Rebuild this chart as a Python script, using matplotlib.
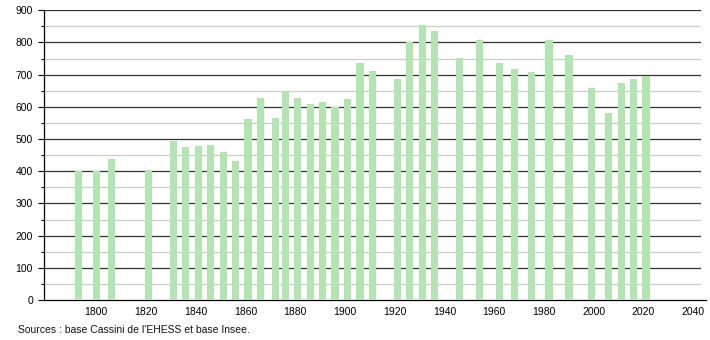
import matplotlib.pyplot as plt
import numpy as np

plt.rcParams['font.family'] = ['Liberation Sans', 'DejaVu Sans']

years = [1793, 1800, 1806, 1821, 1831, 1836, 1841, 1846, 1851, 1856,
         1861, 1866, 1872, 1876, 1881, 1886, 1891, 1896, 1901, 1906,
         1911, 1921, 1926, 1931, 1936, 1946, 1954, 1962, 1968, 1975,
         1982, 1990, 1999, 2006, 2011, 2016, 2021]
population = [402, 402, 438, 405, 493, 475, 478, 481, 461, 431,
              562, 627, 565, 647, 626, 608, 614, 598, 623, 736,
              711, 685, 800, 853, 835, 751, 809, 736, 717, 708,
              809, 760, 658, 581, 673, 686, 696]

yticks = np.arange(0, 901, 100)
xticks = np.arange(1800, 2041, 20)

fig = plt.figure(figsize=(7.1, 3.4), dpi=100)
ax = fig.add_axes([0.062, 0.1176, 0.925, 0.8524])

ax.bar(years, population, width=2.9, color='#b3e5b3', zorder=3)

# grid lines
for v in np.arange(50, 901, 100):
    ax.axhline(v, color='#cccccc', lw=0.9, zorder=1)
for v in yticks[1:]:
    ax.axhline(v, color='#333333', lw=0.9, zorder=1)

ax.set_xlim(1779, 2043)
ax.set_ylim(0, 900)
ax.set_yticks(yticks)
ax.set_yticks(np.arange(50, 901, 100), minor=True)
ax.set_xticks(xticks)
ax.tick_params(axis='y', labelsize=7.5, length=4, width=0.8, pad=4)
ax.tick_params(axis='y', which='minor', length=2, width=0.8)
ax.tick_params(axis='x', labelsize=7.5, length=0, pad=5)

for s in ['top', 'right']:
    ax.spines[s].set_visible(False)
ax.spines['left'].set_linewidth(0.9)
ax.spines['bottom'].set_linewidth(0.9)
ax.spines['bottom'].set_bounds(1779, 2045)
ax.spines['bottom'].set_clip_on(False)

fig.text(0.025, 0.02, "Sources : base Cassini de l'EHESS et base Insee.",
         fontsize=7.5, color='#111111')

fig.savefig('out.png', dpi=100)
